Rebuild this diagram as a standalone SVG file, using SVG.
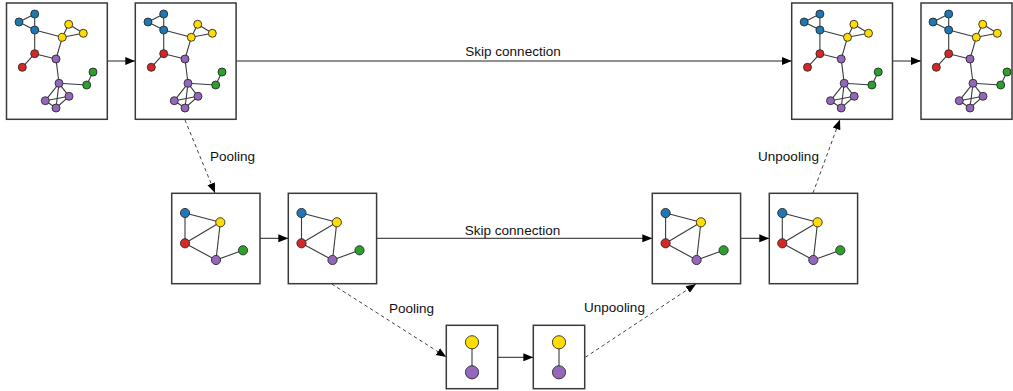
<svg xmlns="http://www.w3.org/2000/svg" xmlns:xlink="http://www.w3.org/1999/xlink" width="1013" height="391" viewBox="0 0 1013 391">
<style>
.box{fill:#fff;stroke:#3a3a3a;stroke-width:1.5}
.e{stroke:#3a3a3a;stroke-width:1.1;fill:none}
.n{stroke:#2a2a2a;stroke-width:0.9}
.b{fill:#1f77b4}.y{fill:#ffdd00}.r{fill:#d62728}.g{fill:#2ca02c}.p{fill:#9467bd}
.c{stroke:#222;stroke-width:1;fill:none}
.d{stroke:#444;stroke-width:1;fill:none;stroke-dasharray:3.5,3}
.t{font-family:"Liberation Sans",Arial,sans-serif;font-size:13.5px;fill:#111;text-anchor:middle}
</style>
<defs>
<marker id="ah" markerUnits="userSpaceOnUse" markerWidth="10" markerHeight="10" viewBox="0 0 10 10" refX="10" refY="5" orient="auto">
<path d="M0,1 L10,5 L0,9 Z" fill="#000"/>
</marker>
<g id="big">
<g class="e">
<line x1="34.7" y1="14" x2="19" y2="22"/><line x1="19" y1="22" x2="34.7" y2="30"/><line x1="34.7" y1="14" x2="34.7" y2="30"/>
<line x1="34.7" y1="30" x2="62.3" y2="37.3"/><line x1="62.3" y1="37.3" x2="68.7" y2="24.3"/><line x1="68.7" y1="24.3" x2="83.3" y2="33.3"/><line x1="83.3" y1="33.3" x2="62.3" y2="37.3"/>
<line x1="34.7" y1="30" x2="34.7" y2="53.7"/><line x1="34.7" y1="53.7" x2="22.3" y2="67.3"/><line x1="34.7" y1="53.7" x2="56" y2="59"/><line x1="56" y1="59" x2="62.3" y2="37.3"/>
<line x1="56" y1="59" x2="59" y2="83.3"/><line x1="59" y1="83.3" x2="86.7" y2="85"/><line x1="86.7" y1="85" x2="93" y2="72"/>
<line x1="59" y1="83.3" x2="45.3" y2="100.7"/><line x1="59" y1="83.3" x2="69" y2="96.3"/><line x1="59" y1="83.3" x2="56" y2="108"/>
<line x1="45.3" y1="100.7" x2="69" y2="96.3"/><line x1="45.3" y1="100.7" x2="56" y2="108"/><line x1="69" y1="96.3" x2="56" y2="108"/>
</g>
<circle class="n b" cx="34.7" cy="14" r="4"/><circle class="n b" cx="19" cy="22" r="4"/><circle class="n b" cx="34.7" cy="30" r="4"/>
<circle class="n y" cx="68.7" cy="24.3" r="4"/><circle class="n y" cx="83.3" cy="33.3" r="4"/><circle class="n y" cx="62.3" cy="37.3" r="4"/>
<circle class="n r" cx="34.7" cy="53.7" r="4"/><circle class="n r" cx="22.3" cy="67.3" r="4"/>
<circle class="n p" cx="56" cy="59" r="4"/><circle class="n p" cx="59" cy="83.3" r="4"/>
<circle class="n g" cx="93" cy="72" r="4"/><circle class="n g" cx="86.7" cy="85" r="4"/>
<circle class="n p" cx="45.3" cy="100.7" r="4"/><circle class="n p" cx="69" cy="96.3" r="4"/><circle class="n p" cx="56" cy="108" r="4"/>
</g>
<g id="mid">
<g class="e">
<line x1="185" y1="213" x2="185" y2="243.3"/><line x1="185" y1="213" x2="220.3" y2="222.3"/><line x1="185" y1="243.3" x2="220.3" y2="222.3"/>
<line x1="185" y1="243.3" x2="216" y2="260"/><line x1="220.3" y1="222.3" x2="216" y2="260"/><line x1="216" y1="260" x2="243" y2="250.3"/>
</g>
<circle class="n b" cx="185" cy="213" r="4.6"/><circle class="n y" cx="220.3" cy="222.3" r="4.6"/><circle class="n r" cx="185" cy="243.3" r="4.6"/>
<circle class="n p" cx="216" cy="260" r="4.6"/><circle class="n g" cx="243" cy="250.3" r="4.6"/>
</g>
<g id="small">
<line class="e" x1="472" y1="342.3" x2="472" y2="372.3"/>
<circle class="n y" cx="472" cy="342.3" r="6.6"/><circle class="n p" cx="472" cy="372.3" r="6.6"/>
</g>
</defs>

<g id="connectors">
<line class="c" x1="107.3" y1="61" x2="135.3" y2="61" marker-end="url(#ah)"/>
<line class="c" x1="236" y1="61" x2="791.7" y2="61" marker-end="url(#ah)"/>
<line class="c" x1="891.7" y1="61" x2="921" y2="61" marker-end="url(#ah)"/>
<line class="d" x1="185" y1="120" x2="215" y2="193" marker-end="url(#ah)"/>
<line class="c" x1="260" y1="238.3" x2="288.3" y2="238.3" marker-end="url(#ah)"/>
<line class="c" x1="376.7" y1="238.3" x2="652.3" y2="238.3" marker-end="url(#ah)"/>
<line class="c" x1="741" y1="238.3" x2="769.3" y2="238.3" marker-end="url(#ah)"/>
<line class="d" x1="331.7" y1="284" x2="446.3" y2="357" marker-end="url(#ah)"/>
<line class="c" x1="497.7" y1="357.3" x2="533.3" y2="357.3" marker-end="url(#ah)"/>
<line class="d" x1="585.3" y1="357.3" x2="696" y2="284" marker-end="url(#ah)"/>
<line class="d" x1="813" y1="193" x2="840" y2="119.5" marker-end="url(#ah)"/>
<text class="t" x="513" y="56">Skip connection</text>
<text class="t" x="512.5" y="235">Skip connection</text>
<text class="t" x="232.5" y="161">Pooling</text>
<text class="t" x="788.5" y="161">Unpooling</text>
<text class="t" x="411.5" y="313">Pooling</text>
<text class="t" x="614.5" y="312">Unpooling</text>
</g>

<g id="g1"><rect class="box" x="6.5" y="3" width="100.8" height="116.3"/><use xlink:href="#big"/></g>
<g id="g2"><rect class="box" x="135.3" y="3" width="100.8" height="116.3"/><use xlink:href="#big" transform="translate(129,0)"/></g>
<g id="g4"><rect class="box" x="791.7" y="3" width="100.8" height="116.3"/><use xlink:href="#big" transform="translate(785.2,0)"/></g>
<g id="g5"><rect class="box" x="921" y="3" width="91" height="116.3"/><use xlink:href="#big" transform="translate(914,0)"/></g>
<g id="m1"><rect class="box" x="171.7" y="193.3" width="88.3" height="90.4"/><use xlink:href="#mid"/></g>
<g id="m2"><rect class="box" x="288.3" y="193.3" width="88.3" height="90.4"/><use xlink:href="#mid" transform="translate(116.5,0)"/></g>
<g id="m3"><rect class="box" x="652.3" y="193.3" width="88.3" height="90.4"/><use xlink:href="#mid" transform="translate(480.6,0)"/></g>
<g id="m4"><rect class="box" x="769.3" y="193.3" width="88.3" height="90.4"/><use xlink:href="#mid" transform="translate(597.3,0)"/></g>
<g id="s1"><rect class="box" x="446.3" y="325.3" width="51.4" height="63.4"/><use xlink:href="#small"/></g>
<g id="s2"><rect class="box" x="533.3" y="325.3" width="51.4" height="63.4"/><use xlink:href="#small" transform="translate(87,0)"/></g>
</svg>
